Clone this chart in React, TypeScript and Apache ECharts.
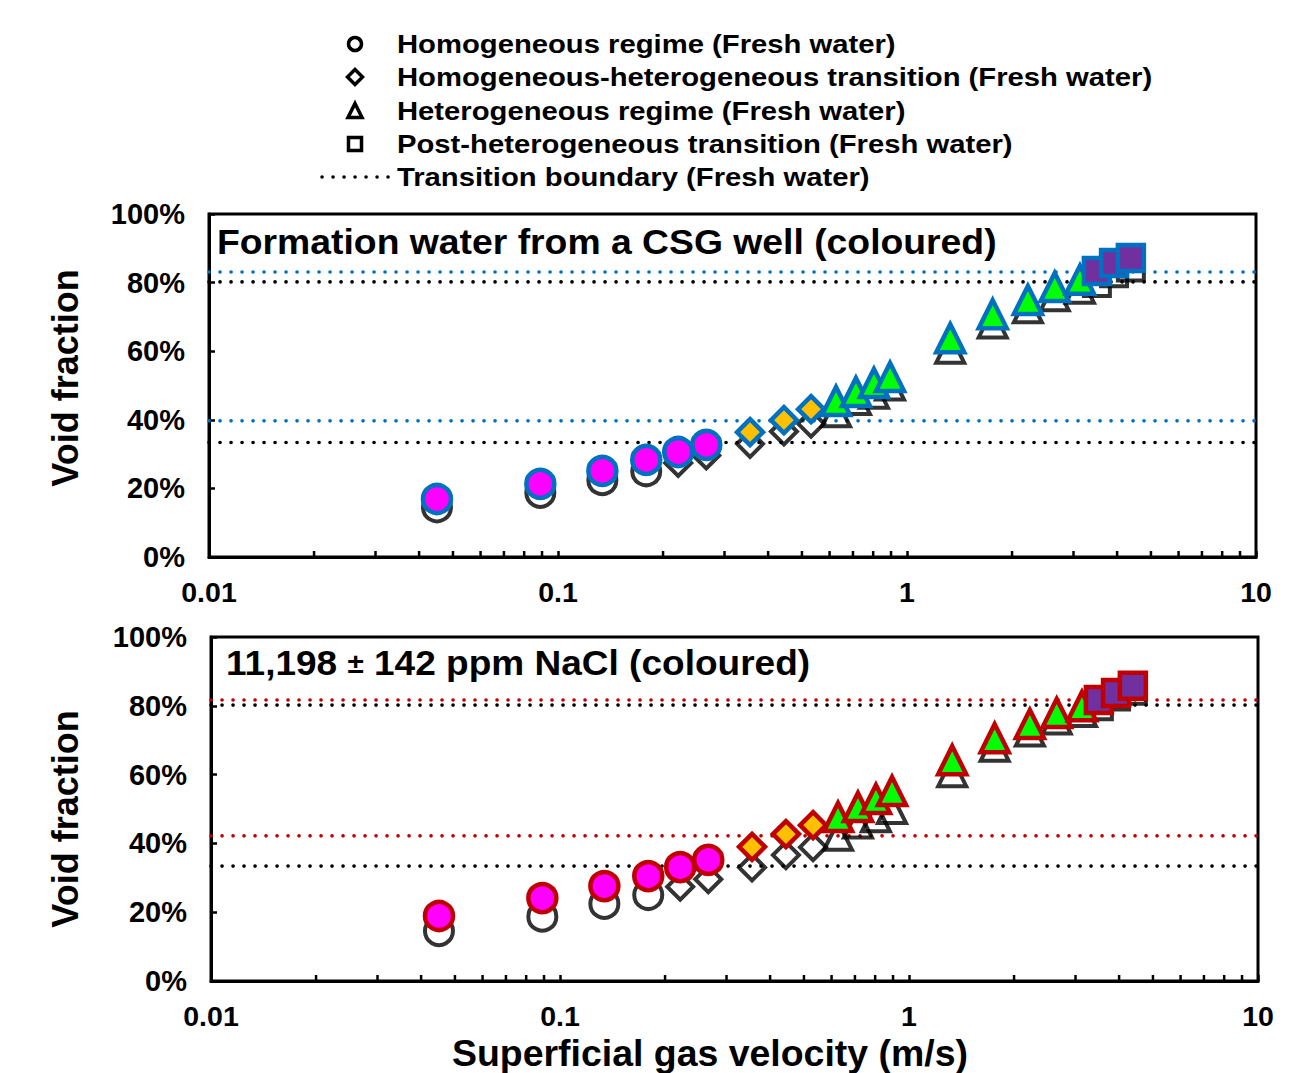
import React, { useEffect, useRef } from "react";
import * as echarts from "echarts";

// Superficial gas velocity (m/s), same for all data sets
const velocity = [0.045, 0.089, 0.134, 0.179, 0.221, 0.266, 0.355, 0.444, 0.531, 0.626, 0.714, 0.804, 0.894, 1.33, 1.76, 2.22, 2.65, 3.13, 3.5, 3.92, 4.38];

// Void fraction (%) - fresh water (black, open symbols)
const freshVoid = [14.5, 18.7, 22.4, 25.0, 27.4, 29.6, 33.0, 36.6, 38.9, 42.2, 45.8, 47.6, 50.0, 60.7, 68.1, 72.5, 76.0, 78.2, 79.9, 82.7, 84.4];
// Void fraction (%) - formation water from a CSG well (coloured)
const csgVoid = [16.9, 21.3, 25.1, 28.3, 30.6, 32.7, 36.4, 39.9, 43.1, 45.5, 48.1, 50.7, 52.5, 63.8, 70.8, 74.9, 78.7, 80.8, 83.4, 85.7, 87.2];
// Void fraction (%) - 11,198 ppm NaCl (coloured)
const naclVoid = [18.9, 24.1, 27.6, 30.5, 33.1, 35.2, 39.0, 42.7, 45.3, 47.7, 50.6, 52.9, 55.2, 64.2, 70.6, 74.7, 77.9, 79.9, 81.7, 83.7, 85.8];

// number of points in each regime: homogeneous, transition, heterogeneous, post-heterogeneous
const freshRegimeCounts = [4, 5, 9, 3];
const saltRegimeCounts = [6, 3, 9, 3];

// transition boundaries (%)
const freshBoundaries = [33.4, 80.2];
const csgBoundaries = [39.7, 83.1];
const naclBoundaries = [42.2, 81.7];

const xRange = [0.01, 10];
const minorTicks = [0.02, 0.03, 0.04, 0.05, 0.06, 0.07, 0.08, 0.09, 0.2, 0.3, 0.4, 0.5, 0.6, 0.7, 0.8, 0.9, 2, 3, 4, 5, 6, 7, 8, 9];
const yTicks = ["0%", "20%", "40%", "60%", "80%", "100%"];

const regimeSymbols = ["circle", "diamond", "triangle", "rect"];
const regimeSizes = [28, 26, 28, 26];
const regimeFills = ["#FF00FF", "#FFC000", "#00FF00", "#7030A0"];

const FONT = "Liberation Sans, Arial, sans-serif";

function splitByCounts(values: number[], counts: number[]) {
  const out: number[][][] = [];
  let i = 0;
  counts.forEach((c) => {
    const grp: number[][] = [];
    for (let k = 0; k < c; k++) {
      grp.push([velocity[i], values[i]]);
      i++;
    }
    out.push(grp);
  });
  return out;
}

function dottedLines(values: number[], color: string, idx: number) {
  return {
    type: "custom",
    xAxisIndex: idx,
    yAxisIndex: idx,
    data: values.map((v) => [xRange[0], v]),
    silent: true,
    z: 1,
    renderItem: (params: any, api: any) => {
      const v = api.value(1);
      const p0 = api.coord([xRange[0], v]);
      const p1 = api.coord([xRange[1], v]);
      return {
        type: "line",
        shape: { x1: p0[0], y1: p0[1], x2: p1[0], y2: p1[1] },
        style: { stroke: color, lineWidth: 3.6, lineDash: [0.1, 10.9], lineCap: "round" },
      };
    },
  };
}

function buildSeries(idx: number, salt: number[], border: string, bounds: number[]) {
  const series: any[] = [];
  series.push(dottedLines(freshBoundaries, "#000000", idx));
  series.push(dottedLines(bounds, border, idx));
  splitByCounts(freshVoid, freshRegimeCounts).forEach((grp, r) => {
    series.push({
      type: "scatter",
      xAxisIndex: idx,
      yAxisIndex: idx,
      data: grp,
      symbol: regimeSymbols[r],
      symbolSize: regimeSizes[r],
      z: 2,
      itemStyle: { color: "rgba(255,255,255,0)", borderColor: "#000000", borderWidth: 4 },
    });
  });
  splitByCounts(salt, saltRegimeCounts).forEach((grp, r) => {
    series.push({
      type: "scatter",
      xAxisIndex: idx,
      yAxisIndex: idx,
      data: grp,
      symbol: regimeSymbols[r],
      symbolSize: regimeSizes[r],
      z: 3,
      itemStyle: { color: regimeFills[r], borderColor: border, borderWidth: 4.5, opacity: 1 },
    });
  });
  series.push({
    type: "custom",
    xAxisIndex: idx,
    yAxisIndex: idx,
    data: minorTicks.map((v) => [v, 0]),
    silent: true,
    z: 4,
    renderItem: (params: any, api: any) => {
      const p = api.coord([api.value(0), 0]);
      return {
        type: "line",
        shape: { x1: p[0], y1: p[1], x2: p[0], y2: p[1] - 6 },
        style: { stroke: "#000", lineWidth: 2.5 },
      };
    },
  });
  return series;
}

function xAxis(idx: number) {
  return {
    type: "log",
    gridIndex: idx,
    logBase: 10,
    min: xRange[0],
    max: xRange[1],
    axisLine: { show: true, lineStyle: { color: "#000", width: 3 } },
    axisTick: { show: true, inside: true, length: 6, lineStyle: { color: "#000", width: 2.5 } },
    splitLine: { show: false },
    axisLabel: {
      color: "#000",
      fontSize: 28.5,
      fontWeight: "bold",
      fontFamily: FONT,
      margin: 20,
      formatter: (v: number) => (v >= 1 ? String(Math.round(v)) : String(parseFloat(v.toPrecision(2)))),
    },
  };
}

function yAxis(idx: number) {
  return {
    type: "value",
    gridIndex: idx,
    min: 0,
    max: 100,
    interval: 20,
    axisLine: { show: true, lineStyle: { color: "#000", width: 3 } },
    axisTick: { show: true, inside: true, length: 6, lineStyle: { color: "#000", width: 2.5 } },
    splitLine: { show: false },
    axisLabel: {
      color: "#000",
      fontSize: 29,
      fontWeight: "bold",
      fontFamily: FONT,
      margin: 24,
      formatter: (v: number) => yTicks[Math.round(v / 20)],
    },
  };
}

const legendItems = [
  "Homogeneous regime (Fresh water)",
  "Homogeneous-heterogeneous transition (Fresh water)",
  "Heterogeneous regime (Fresh water)",
  "Post-heterogeneous transition (Fresh water)",
  "Transition boundary (Fresh water)",
];

function legendGraphic() {
  const ys = [44, 77, 111, 144, 177];
  const sx = 355;
  const els: any[] = [];
  const stroke = { stroke: "#000", lineWidth: 3.5, fill: "#fff" };
  els.push({ type: "circle", shape: { cx: sx, cy: ys[0], r: 6.5 }, style: stroke });
  els.push({ type: "polygon", shape: { points: [[sx, ys[1] - 7.5], [sx + 7.5, ys[1]], [sx, ys[1] + 7.5], [sx - 7.5, ys[1]]] }, style: stroke });
  els.push({ type: "polygon", shape: { points: [[sx, ys[2] - 7.5], [sx + 7, ys[2] + 6.5], [sx - 7, ys[2] + 6.5]] }, style: stroke });
  els.push({ type: "rect", shape: { x: sx - 6.5, y: ys[3] - 6.5, width: 13, height: 13 }, style: stroke });
  els.push({
    type: "line",
    shape: { x1: 322, y1: ys[4], x2: 392, y2: ys[4] },
    style: { stroke: "#000", lineWidth: 3.5, lineDash: [0.1, 10.9], lineCap: "round" },
  });
  legendItems.forEach((t, i) => {
    els.push({
      type: "text",
      x: 397,
      y: ys[i],
      scaleX: 1.17,
      style: { text: t, font: `bold 25px ${FONT}`, fill: "#000", align: "left", verticalAlign: "middle" },
    });
  });
  return els;
}

export default function App() {
  const ref = useRef<HTMLDivElement>(null);
  useEffect(() => {
    if (!ref.current) return;
    const chart = echarts.init(ref.current, undefined, { renderer: "svg" });
    const option: any = {
      animation: false,
      backgroundColor: "#ffffff",
      grid: [
        { left: 209, top: 214, width: 1047, height: 343, show: true, borderColor: "#000", borderWidth: 3, backgroundColor: "transparent" },
        { left: 211, top: 637, width: 1047, height: 344, show: true, borderColor: "#000", borderWidth: 3, backgroundColor: "transparent" },
      ],
      xAxis: [xAxis(0), xAxis(1)],
      yAxis: [yAxis(0), yAxis(1)],
      series: [
        ...buildSeries(0, csgVoid, "#0070C0", csgBoundaries),
        ...buildSeries(1, naclVoid, "#C00000", naclBoundaries),
      ],
      graphic: [
        ...legendGraphic(),
        {
          type: "text",
          x: 217,
          y: 242,
          z: 10,
          scaleX: 1.037,
          style: { text: "Formation water from a CSG well (coloured)", font: `bold 36px ${FONT}`, fill: "#000", align: "left", verticalAlign: "middle" },
        },
        {
          type: "text",
          x: 226,
          y: 663,
          z: 10,
          scaleX: 1.058,
          style: {
            text: "{a|11,198 }{b|±}{a| 142 ppm NaCl (coloured)}",
            fill: "#000",
            align: "left",
            verticalAlign: "middle",
            rich: {
              a: { font: `bold 35px ${FONT}`, fill: "#000" },
              b: { font: `bold 28px ${FONT}`, fill: "#000" },
            },
          },
        },
        {
          type: "text",
          x: 65,
          y: 378,
          rotation: Math.PI / 2,
          style: { text: "Void fraction", font: `bold 36px ${FONT}`, fill: "#000", align: "center", verticalAlign: "middle" },
        },
        {
          type: "text",
          x: 65,
          y: 819,
          rotation: Math.PI / 2,
          style: { text: "Void fraction", font: `bold 36px ${FONT}`, fill: "#000", align: "center", verticalAlign: "middle" },
        },
        {
          type: "text",
          x: 710,
          y: 1054,
          scaleX: 1.04,
          style: { text: "Superficial gas velocity (m/s)", font: `bold 36px ${FONT}`, fill: "#000", align: "center", verticalAlign: "middle" },
        },
      ],
    };
    chart.setOption(option);
    return () => chart.dispose();
  }, []);
  return <div ref={ref} style={{ position: "absolute", left: 0, top: 0, width: 1312, height: 1073 }} />;
}
